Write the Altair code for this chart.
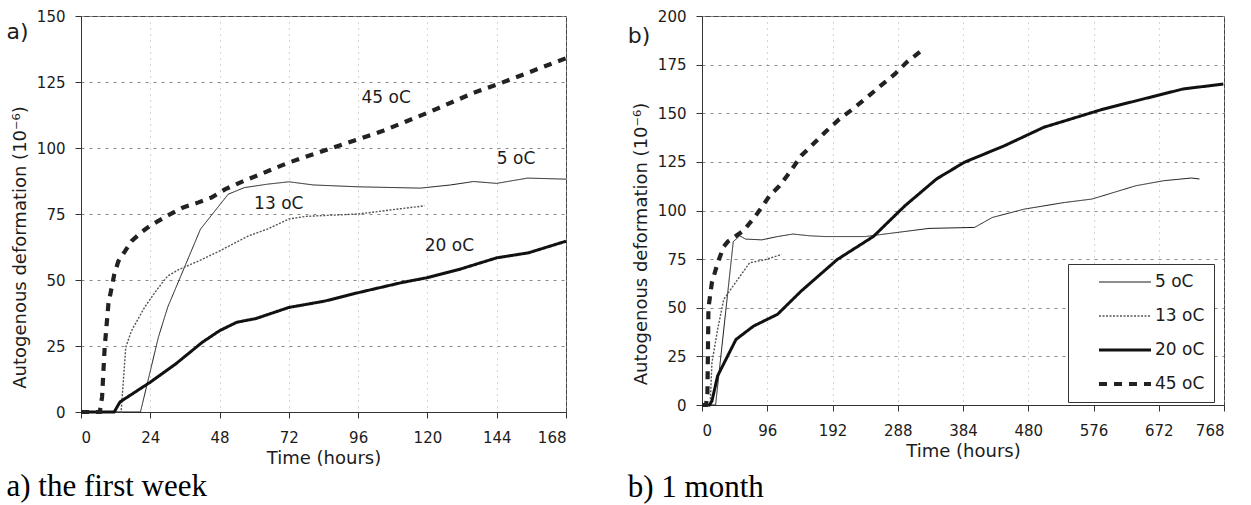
import altair as alt
import pandas as pd

SERIES = ["5 oC", "13 oC", "20 oC", "45 oC"]
WIDTHS = {"5 oC": 1.0, "13 oC": 1.4, "20 oC": 3.0, "45 oC": 4.2}

# ---- first week (hours, 10^-6) ----
t5_week = [0, 20.6, 26.8, 30, 41.4, 51, 56.6, 64.6, 72, 80.5, 96, 117.6, 128, 136, 144, 154.7, 168]
v5_week = [0, 0, 28.3, 39.6, 69.3, 82.5, 85, 86.3, 87.2, 86, 85.3, 84.8, 86, 87.3, 86.6, 88.6, 88.2]

t13_week = [0, 13.9, 15.5, 17.5, 22, 26, 30, 34, 40.7, 48, 58, 64.6, 72, 77.8, 96, 107, 119]
v13_week = [0, 0, 24.5, 30.8, 39.6, 45.9, 51.5, 54, 57.2, 61, 66.7, 69.3, 73.1, 74.1, 75, 76.5, 78.1]

t20_week = [0, 11.5, 13.5, 24, 32.8, 42, 48, 54, 60.6, 72, 84.4, 96, 111, 120, 131, 144, 155, 168]
v20_week = [0, 0, 3.8, 11.3, 18.2, 26.4, 30.8, 34, 35.4, 39.6, 42, 45.2, 49, 50.9, 54, 58.4, 60.3, 64.7]

t45_week = [0, 6.5, 7.3, 8.2, 9.5, 11.5, 12.9, 17.5, 20.8, 24, 30, 35.4, 40.7, 45.3, 50, 56.6,
            72, 96, 104.4, 120, 136, 144, 168]
v45_week = [0, 0, 5.7, 24.5, 41, 52, 57, 64.7, 68, 70.6, 74.4, 77.5, 79.4, 81.3, 84.4, 87.6,
            94.5, 103.3, 106.4, 113.3, 120.9, 124, 134]

# ---- one month (hours, 10^-6) ----
t5_month = [0, 20, 46, 55.6, 64, 88, 111, 134, 158, 181, 240, 287, 334, 401, 427, 474, 533, 574,
            638, 679, 720, 732]
v5_month = [0, 0, 84, 87, 85.3, 84.9, 86.6, 87.9, 87, 86.6, 86.6, 88.7, 90.8, 91.3, 96.4, 100.7,
            104.1, 105.9, 112.7, 115.3, 116.7, 116.2]

t13_month = [0, 12, 14.6, 23, 32, 52.7, 70, 93.7, 117]
v13_month = [0, 0, 21.7, 38.9, 54.3, 64.6, 73.1, 74.8, 77.4]

t20_month = [0, 11, 14.6, 23, 50, 76, 111, 146, 199, 252, 298.5, 345, 386, 445, 503, 591, 650, 708, 767]
v20_month = [0, 0, 2, 15, 33.7, 40.6, 46.6, 58.6, 74.8, 86.6, 102.4, 116.2, 124.8, 133.3, 142.8,
             152.2, 157.4, 162.5, 165]

t45_month = [0, 6, 8, 9.5, 14.6, 23, 32, 38, 61, 79, 99.5, 114, 129, 146, 161, 181, 202, 222, 243,
             263, 284, 301, 325]
v45_month = [0, 0, 6, 50, 63, 73, 81.5, 84, 89.6, 97.3, 107.6, 112.7, 119.6, 128.2, 133.3, 140.2,
             147, 152.2, 158.2, 164.2, 170.2, 176.2, 182.8]

# curve annotations on the first-week panel
label_text = ["45 oC", "5 oC", "13 oC", "20 oC"]
label_t = [105.7, 150.7, 68.5, 127.6]
label_v = [119, 95.7, 78.8, 62.8]

week_ticks_x = list(range(0, 169, 24))
month_ticks_x = list(range(0, 769, 96))
week_ticks_y = list(range(0, 151, 25))
month_ticks_y = list(range(0, 201, 25))


def to_frame(groups):
    rows = []
    for name, ts, vs in groups:
        for i, (t, v) in enumerate(zip(ts, vs)):
            rows.append({"series": name, "t": t, "v": v, "i": i, "w": WIDTHS[name]})
    return pd.DataFrame(rows)


week = to_frame([("5 oC", t5_week, v5_week), ("13 oC", t13_week, v13_week),
                 ("20 oC", t20_week, v20_week), ("45 oC", t45_week, v45_week)])
month = to_frame([("5 oC", t5_month, v5_month), ("13 oC", t13_month, v13_month),
                  ("20 oC", t20_month, v20_month), ("45 oC", t45_month, v45_month)])
labels = pd.DataFrame({"t": label_t, "v": label_v, "label": label_text})

SANS = "DejaVu Sans"
INK = "#1c1c1c"

# per-entry stroke width for the legend symbols
width_expr = " : ".join(
    f"datum.value === '{k}' ? {v}" for k, v in WIDTHS.items()
) + " : 1"

legend_spec = alt.Legend(
    orient="none", legendX=366, legendY=248, title=None,
    symbolType="M-4,0H4", symbolSize=169, symbolOffset=39,
    symbolStrokeWidth=alt.ExprRef(expr=width_expr),
    labelFont=SANS, labelFontSize=17, labelColor=INK, labelOffset=21.5,
    labelExpr="datum.label == '5 oC' ? '\u2007' + datum.label : datum.label",
    padding=9.5, rowPadding=16, strokeColor="#333", fillColor="white",
)


def panel(df, xmax, xticks, ymax, yticks, width, height, tag, tag_x, tag_y,
          caption, caption_dx, caption_offset, legend, extra=None):
    x = alt.X("t:Q", scale=alt.Scale(domain=[0, xmax], nice=False),
              axis=alt.Axis(values=xticks, title="Time (hours)", gridDash=[1, 5],
                            gridColor="#aaa", labelPadding=12, titlePadding=4))
    y = alt.Y("v:Q", scale=alt.Scale(domain=[0, ymax], nice=False),
              axis=alt.Axis(values=yticks, title="Autogenous deformation (10⁻⁶)",
                            gridDash=[3, 5], gridColor="#888", labelPadding=10,
                            titlePadding=7, titleY=height / 2 + 33))
    leg = legend_spec if legend else None
    lines = alt.Chart(df).mark_line(interpolate="linear").encode(
        x=x, y=y,
        color=alt.Color("series:N", sort=SERIES,
                        scale=alt.Scale(domain=SERIES, range=[INK, "#555", "#111", "#222"]),
                        legend=leg),
        strokeDash=alt.StrokeDash("series:N", sort=SERIES,
                                  scale=alt.Scale(domain=SERIES,
                                                  range=[[1, 0], [2, 1.5], [1, 0], [8, 7]]),
                                  legend=leg),
        strokeWidth=alt.StrokeWidth("w:Q", scale=None, legend=None),
        order="i:Q",
    )
    tag_mark = alt.Chart(pd.DataFrame({"tag": [tag]})).mark_text(
        font=SANS, fontSize=22, color=INK
    ).encode(x=alt.value(tag_x), y=alt.value(tag_y), text="tag:N")
    layers = [lines]
    if extra is not None:
        layers.append(extra)
    layers.append(tag_mark)
    return alt.layer(*layers).properties(
        width=width, height=height,
        title=alt.TitleParams(caption, orient="bottom", anchor="start", frame="bounds",
                              font="Liberation Serif", fontSize=31, fontWeight="normal",
                              color="#000", offset=caption_offset, dx=caption_dx),
    )


week_labels = alt.Chart(labels).mark_text(font=SANS, fontSize=17, color=INK).encode(
    x="t:Q", y="v:Q", text="label:N"
)

left = panel(week, 168, week_ticks_x, 150, week_ticks_y, 485, 396, "a)", -63.5, 15.5,
             "a) the first week", 0, 5, False, extra=week_labels)
right = panel(month, 768, month_ticks_x, 200, month_ticks_y, 522, 389, "b)", -63, 19.5,
              "b) 1 month", 0, 13, True)

chart = alt.hconcat(left, right, spacing=52).resolve_scale(
    x="independent", y="independent", color="independent", strokeDash="independent",
).resolve_legend(color="independent", strokeDash="independent").properties(
    padding={"left": 5, "top": 8, "right": 0, "bottom": 0},
    background="white",
).configure_view(stroke="#444", strokeWidth=1).configure_axis(
    labelFont=SANS, labelFontSize=15, labelColor=INK,
    titleFont=SANS, titleFontSize=18, titleFontWeight="normal", titleColor=INK,
    domainColor="#333", tickColor="#333", tickSize=6,
)

chart.save("out.html", embed_options={"renderer": "svg", "actions": False})
